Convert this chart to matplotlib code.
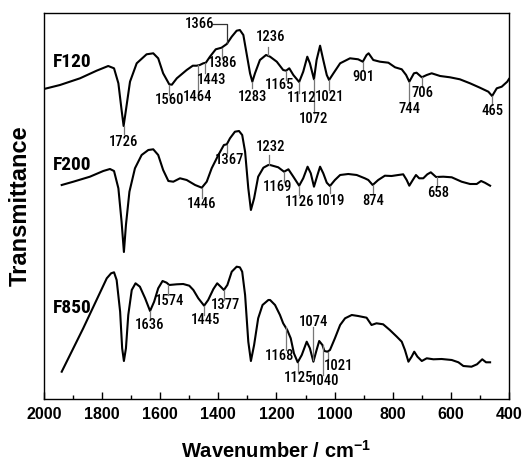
import numpy as np
import matplotlib.pyplot as plt
from matplotlib.ticker import MultipleLocator

plt.rcParams['font.family'] = ['Liberation Sans', 'DejaVu Sans']
plt.rcParams['mathtext.fontset'] = 'custom'
plt.rcParams['mathtext.rm'] = 'Liberation Sans'
plt.rcParams['mathtext.bf'] = 'Liberation Sans:bold'

# FTIR spectra: wavenumber (cm-1) and transmittance (a.u.)
f120_wn = [2000, 1945, 1876, 1819, 1779, 1759, 1744, 1733, 1726, 1718, 1704, 1681,
           1647, 1624, 1607, 1590, 1569, 1560, 1543, 1509, 1488, 1475, 1464, 1452,
           1443, 1429, 1409, 1389, 1371, 1354, 1337, 1326, 1314, 1303, 1291, 1283,
           1274, 1257, 1236, 1222, 1199, 1177, 1167, 1156, 1142, 1122, 1108, 1094,
           1085, 1071, 1062, 1050, 1039, 1027, 1019, 1004, 981, 947, 919, 903, 890,
           883, 867, 844, 815, 792, 769, 754, 743, 727, 718, 700, 683, 666, 637, 603,
           569, 534, 500, 471, 458, 442, 425, 406, 400]
f120_t = [310, 314, 320.7, 328.3, 333, 330.7, 315.7, 289, 273, 289, 317.3, 335.7,
          344.7, 345.7, 340.7, 325.7, 314.7, 314.3, 320.7, 329, 333.3, 333.3, 334, 335.7,
          336.3, 342.3, 349.7, 351.3, 355, 362.3, 368.3, 369, 364, 345.7, 325.7, 317.3,
          325.7, 339, 344, 342.3, 337.3, 329, 328.3, 330.7, 324, 317, 327.3, 342.3,
          335.7, 319.7, 339, 353.3, 339, 324, 319, 325.7, 335.7, 340.7, 339.7, 337.3, 344,
          345.7, 339, 337.3, 336.3, 331.7, 329.7, 324, 317.3, 325.7, 326.3, 321.7, 324, 325.7, 323, 321.7,
          319.7, 315.7, 311.3, 307.3, 303, 310.7, 312.3, 317.3, 320]

f200_wn = [1939, 1899, 1842, 1796, 1773, 1759, 1744, 1733, 1725, 1718, 1706, 1687,
           1664, 1641, 1624, 1607, 1590, 1572, 1555, 1532, 1509, 1480, 1457, 1440,
           1423, 1400, 1381, 1371, 1360, 1343, 1329, 1318, 1308, 1297, 1288, 1277,
           1263, 1245, 1228, 1222, 1194, 1174, 1159, 1142, 1122, 1108, 1093, 1082,
           1071, 1059, 1050, 1039, 1027, 1016, 999, 981, 953, 924, 896, 884, 869, 850,
           827, 804, 781, 764, 752, 743, 731, 720, 709, 695, 681, 669, 651, 626, 597,
           563, 534, 511, 496, 483, 465]
f200_t = [214, 217.3, 222.3, 228, 230, 228, 210.7, 177.3, 147, 174, 207.3, 230.7,
          244, 249, 249.7, 244, 229, 218, 217.3, 220.7, 219, 214, 211.3, 217.3,
          230.7, 244, 254, 254.7, 260.7, 267.3, 268, 264, 247.3, 210.7, 189, 200.7,
          222.3, 231.3, 234, 234, 231.7, 227.3, 229.7, 222.3, 213.3, 220.7, 232.3, 225.7,
          212.3, 224, 232.3, 225.7, 216.3, 213, 219, 224, 225, 224, 220.7, 219, 214, 219,
          223.3, 223, 224, 224.7, 219, 213.3, 219, 224, 220.7, 220.7, 224.7, 226.7, 222, 222.3, 221.7,
          217.3, 215, 215, 218, 216.3, 213.3]

f850_wn = [1939, 1865, 1784, 1769, 1759, 1750, 1738, 1731, 1725, 1718, 1710, 1698,
           1685, 1670, 1652, 1635, 1621, 1607, 1592, 1578, 1569, 1543, 1521, 1500,
           1486, 1469, 1449, 1435, 1417, 1404, 1392, 1381, 1369, 1354, 1337, 1326,
           1318, 1308, 1297, 1288, 1277, 1263, 1248, 1228, 1222, 1205, 1188, 1177,
           1163, 1151, 1140, 1127, 1113, 1096, 1085, 1073, 1062, 1053, 1042, 1035,
           1025, 1016, 999, 981, 964, 941, 919, 890, 873, 856, 833, 810, 786, 769,
           758, 746, 735, 726, 715, 700, 683, 660, 632, 597, 574, 557, 529, 510, 492,
           479, 465]
f850_t = [27.3, 70.7, 120.7, 125.7, 126.7, 119, 87.3, 50.7, 38, 50.7, 84, 109,
          115.7, 112.3, 100.7, 88, 97.3, 110.7, 118, 116.3, 114, 114.7, 115, 113.3,
          109, 100.7, 93.3, 99, 110, 115.7, 112.3, 109, 114, 127.3, 132.3, 131.7,
          127.3, 104, 57.3, 38, 54, 80.7, 94, 99, 99, 94, 84, 75.7,
          69, 60.7, 45.7, 36.7, 44, 57.3, 50.7, 37.3, 49, 58, 54, 48,
          47.3, 49, 60.7, 74, 80.7, 84, 83, 81.3, 74, 75.7, 74.7, 69, 62.3, 57.3,
          49, 37.3, 42.3, 47.3, 42.3, 38, 40.7, 39.7, 40, 39, 36.7, 33, 32.3, 34.7, 39.7,
          36.7, 36.7]

sample_names = ['F120', 'F200', 'F850']

# peak marks: label, x of tick line, line from / to, text x, text y
f120_marks = [('1726', 1726, 273, 265, 1726, 257), ('1560', 1569, 314, 304, 1567, 299),
              ('1464', 1471, 334, 307, 1471, 302), ('1443', 1446, 336, 326, 1422, 319),
              ('1386', 1389, 351, 341, 1385, 336), ('1283', 1283, 317, 311, 1284, 302),
              ('1236', 1228, 344, 352, 1222, 362), ('1165', 1167, 328, 319, 1188, 314),
              ('1112', 1123, 317, 306, 1113, 300.5), ('1072', 1071, 320, 286, 1071, 280),
              ('1021', 1018, 319, 309, 1019, 302), ('901', 903, 337, 329, 902, 322),
              ('744', 743, 317, 296, 741, 290), ('706', 700, 322, 312, 697, 306),
              ('465', 458, 303, 294, 458, 288)]
f200_marks = [('1446', 1457, 211, 201, 1457, 195), ('1367', 1371, 254, 246, 1360, 239),
              ('1232', 1226, 234, 244, 1222, 252), ('1169', 1174, 227, 217, 1198, 211.5),
              ('1126', 1122, 213, 204, 1122, 196.5), ('1019', 1016, 213, 206, 1013, 197.5),
              ('874', 869, 214, 206, 867, 197.5), ('658', 649, 222, 212, 645, 206)]
f850_marks = [('1636', 1635, 88, 79, 1635, 74), ('1574', 1572, 114, 104, 1568, 97.5),
              ('1445', 1449, 93, 84, 1444, 79), ('1377', 1381, 109, 99, 1375, 94),
              ('1168', 1168, 72, 49, 1188, 42.5), ('1125', 1125, 36, 27, 1125, 21),
              ('1040', 1039, 54, 24, 1033, 18), ('1074', 1073, 39, 72, 1073, 77),
              ('1021', 1022, 47, 39, 987, 33)]

narrow = ['Roboto Condensed', 'Liberation Sans', 'DejaVu Sans']

fig = plt.figure(figsize=(5.23, 4.61), dpi=100)
ax = fig.add_axes([0.0841, 0.1345, 0.8891, 0.8373])

for wn, t in [(f120_wn, f120_t), (f200_wn, f200_t), (f850_wn, f850_t)]:
    ax.plot(wn, t, color='black', lw=1.5, solid_joinstyle='round')

for marks in [f120_marks, f200_marks, f850_marks]:
    for lab, x, y0, y1, tx, ty in marks:
        ax.plot([x, x], [y0, y1], color='#777777', lw=0.9)
        ax.text(tx, ty, lab, ha='center', va='center', fontsize=10.5,
                fontweight='medium', family=narrow)

# 1366 has a bracket leader
ax.plot([1418, 1371, 1371], [375, 375, 356], color='#333333', lw=0.9)
ax.text(1463, 375, '1366', ha='center', va='center', fontsize=10.5,
        fontweight='medium', family=narrow)

for name, ty in zip(sample_names, [337, 234, 91]):
    ax.text(1969, ty, name, ha='left', va='center', fontsize=14,
            fontweight='bold', family=narrow)

ax.set_xlim(2000, 400)
ax.set_ylim(0, 386)
ax.xaxis.set_major_locator(MultipleLocator(200))
ax.xaxis.set_minor_locator(MultipleLocator(100))
ax.tick_params(axis='x', which='both', direction='in', top=False, pad=6,
               labelsize=11.5)
ax.tick_params(axis='x', which='major', length=5, width=1)
ax.tick_params(axis='x', which='minor', length=3, width=1)
ax.set_yticks([])
for lbl in ax.get_xticklabels():
    lbl.set_fontweight('bold')
for s in ax.spines.values():
    s.set_linewidth(1.0)

ax.text(-0.05, 0.5, 'Transmittance', transform=ax.transAxes, rotation=90,
        ha='center', va='center', fontsize=17, fontweight='bold')
ax.text(0.5, -0.135, r'Wavenumber / cm$^{\mathbf{-1}}$', transform=ax.transAxes,
        ha='center', va='center', fontsize=14.5, fontweight='bold')

fig.savefig('out.png', dpi=100)
